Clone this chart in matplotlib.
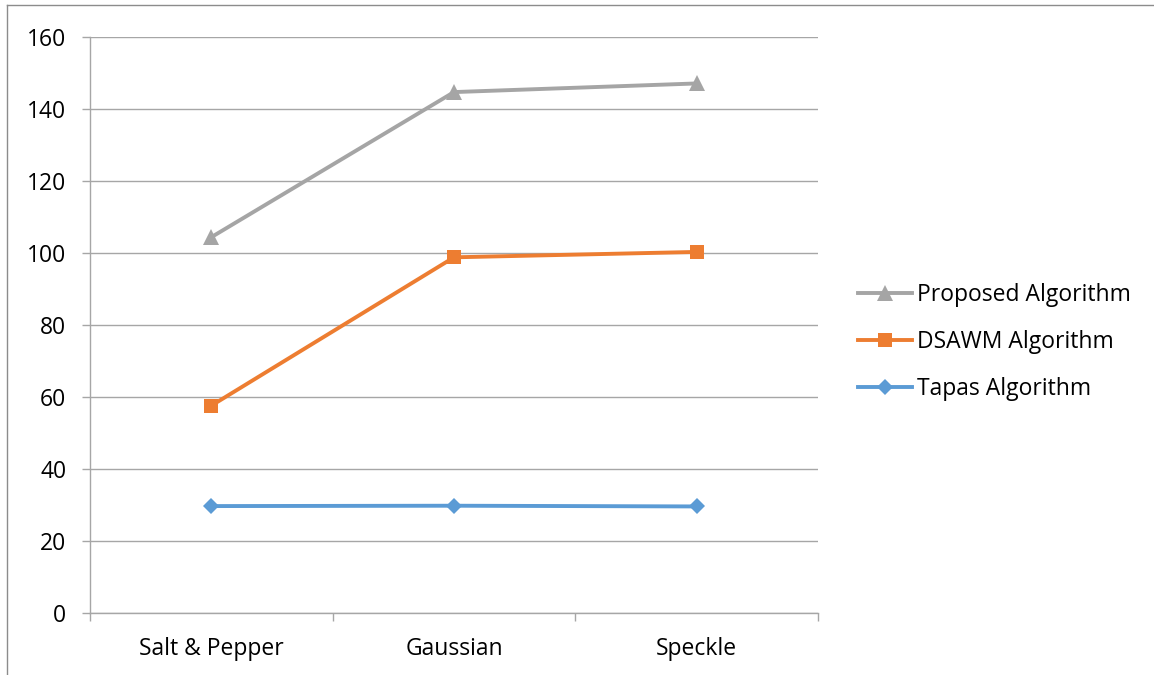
import matplotlib.pyplot as plt
from matplotlib.lines import Line2D

plt.rcParams['font.family'] = ['Open Sans', 'DejaVu Sans']

categories = ["Salt & Pepper", "Gaussian", "Speckle"]
proposed = [104.4, 144.7, 147.1]
dsawm = [57.6, 98.8, 100.3]
tapas = [29.7, 29.8, 29.6]
yticks = [0, 20, 40, 60, 80, 100, 120, 140, 160]

W, H = 1154, 675
fig = plt.figure(figsize=(W / 100, H / 100), dpi=100)
ax = fig.add_axes([90 / W, 1 - 613 / H, 728 / W, 576 / H])

x = [i + 0.5 for i in range(len(categories))]
series = [
    ("Proposed Algorithm", proposed, "#a5a5a5", "^", 11.5),
    ("DSAWM Algorithm", dsawm, "#ed7d31", "s", 10),
    ("Tapas Algorithm", tapas, "#5b9bd5", "D", 8),
]
handles = []
for name, vals, color, mk, ms in series:
    h, = ax.plot(x, vals, color=color, lw=2.8, marker=mk, markersize=ms,
                 markeredgewidth=0, label=name, zorder=3)
    handles.append(h)

ax.set_xlim(0, len(categories))
ax.set_ylim(0, 160)
ax.set_yticks(yticks)
ax.yaxis.grid(True, color="#a6a6a6", lw=1.0)
ax.set_axisbelow(True)

# category boundary ticks, labels centred between them
ax.set_xticks(range(len(categories) + 1))
ax.set_xticklabels([])
ax.set_xticks(x, minor=True)
ax.set_xticklabels(categories, minor=True)
ax.tick_params(axis="x", which="major", length=6, width=1, color="#a6a6a6")
ax.tick_params(axis="x", which="minor", length=0, pad=17, labelsize=16.5)
ax.tick_params(axis="y", length=6, width=1, color="#a6a6a6", pad=11,
               labelsize=16.5)

for s in ["top", "right"]:
    ax.spines[s].set_visible(False)
for s in ["left", "bottom"]:
    ax.spines[s].set_color("#a6a6a6")
    ax.spines[s].set_linewidth(1.0)

fig.legend(handles=handles, loc="center left",
           bbox_to_anchor=(858 / W, 1 - 342 / H), frameon=False,
           fontsize=16.5, handlelength=2.35, handletextpad=0.22,
           labelspacing=1.02, borderpad=0, borderaxespad=0)

# outer chart frame (cropped on the right and bottom)
fig.add_artist(Line2D([7 / W, 1], [1 - 5 / H, 1 - 5 / H],
                      transform=fig.transFigure, color="#8c8c8c", lw=1))
fig.add_artist(Line2D([7 / W, 7 / W], [0, 1 - 5 / H],
                      transform=fig.transFigure, color="#8c8c8c", lw=1))

fig.savefig("out.png", dpi=100)
